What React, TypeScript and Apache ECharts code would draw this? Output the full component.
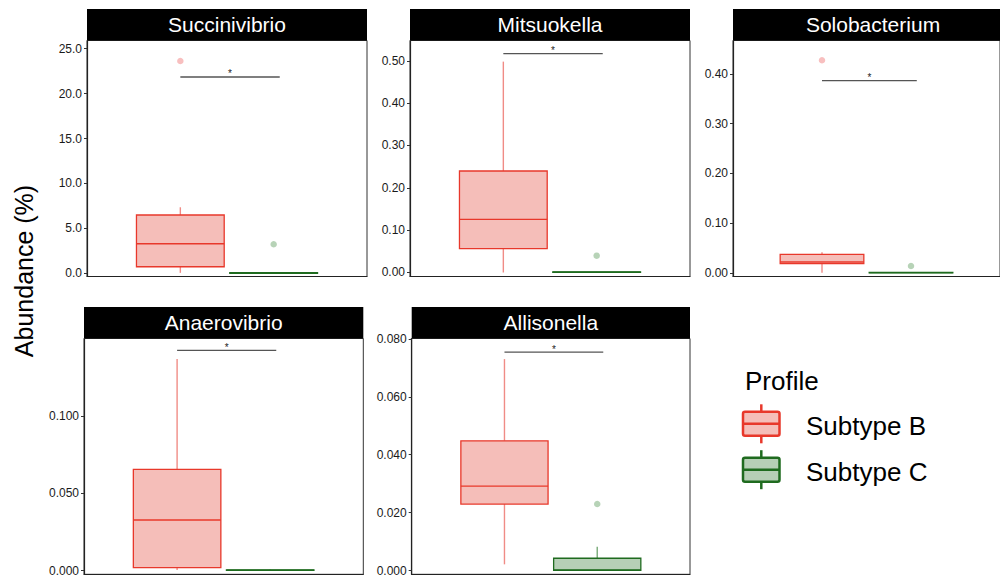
import React, { useEffect, useRef } from "react";
import * as echarts from "echarts";

// ---- data ----
const panelNames = ["Succinivibrio", "Mitsuokella", "Solobacterium", "Anaerovibrio", "Allisonella"];
const groupNames = ["Subtype B", "Subtype C"];
const groupX = [1, 2];
// [lower whisker, Q1, median, Q3, upper whisker]
const boxB = [
  [0.05, 0.73, 3.29, 6.49, 7.35],
  [0.0, 0.0562, 0.1256, 0.2397, 0.498],
  [0.0002, 0.0183, 0.0217, 0.0372, 0.0412],
  [0.0003, 0.0018, 0.0327, 0.0655, 0.1369],
  [0.0022, 0.023, 0.0292, 0.0448, 0.073],
];
const boxC = [
  [0, 0.01, 0.03, 0.06, 0.1],
  [0, 0.0005, 0.001, 0.0015, 0.002],
  [0, 0.0002, 0.0004, 0.0008, 0.0012],
  [0, 0.0001, 0.0002, 0.0004, 0.0006],
  [0, 0.0001, 0.0003, 0.0043, 0.0083],
];
const outliersB = [[23.63], [], [0.4276], [], []];
const outliersC = [[3.23], [0.0397], [0.0137], [], [0.023]];
const sigLevel = [21.85, 0.5168, 0.3865, 0.1425, 0.0754];
const sigLabel = ["*", "*", "*", "*", "*"];
const sigFrom = 1;
const sigTo = 2.065;
const yTicks = [
  [0, 5, 10, 15, 20, 25],
  [0, 0.1, 0.2, 0.3, 0.4, 0.5],
  [0, 0.1, 0.2, 0.3, 0.4],
  [0, 0.05, 0.1],
  [0, 0.02, 0.04, 0.06, 0.08],
];
const yDecimals = [1, 2, 2, 3, 3];
const yMin = [-0.356, -0.00945, -0.00744, -0.00246, -0.00124];
const yMax = [25.91, 0.5479, 0.4674, 0.1502, 0.0801];

// ---- layout / style ----
const grids = [
  { left: 87, top: 40.5, width: 280, height: 236 },
  { left: 410, top: 40.5, width: 280, height: 236 },
  { left: 733, top: 40.5, width: 280, height: 236 },
  { left: 84, top: 338.5, width: 279.3, height: 235.8 },
  { left: 411.7, top: 338.5, width: 278.3, height: 235.8 },
];
const stripH = 31.5;
const boxHalf = 0.47;
const strokeCol = ["#E8382B", "#1F6B1F"];
const fillCol = ["#F5BEB9", "#B6CFB6"];
const whiskerCol = ["#F08C86", "#78AA78"];
const outCol = ["rgba(240,110,110,0.55)", "rgba(90,155,90,0.55)"];
const SANS = "'Liberation Sans', Arial, sans-serif";

export default function App() {
  const ref = useRef<HTMLDivElement>(null);
  useEffect(() => {
    if (!ref.current) return;
    const chart = echarts.init(ref.current, undefined, { renderer: "svg" });

    const series: any[] = [];
    panelNames.forEach((_, i) => {
      series.push({
        type: "custom",
        xAxisIndex: i,
        yAxisIndex: i,
        clip: false,
        data: [
          [groupX[0], ...boxB[i], 0],
          [groupX[1], ...boxC[i], 1],
        ],
        encode: { x: 0, y: [1, 2, 3, 4, 5] },
        renderItem: (params: any, api: any) => {
          const x = api.value(0);
          const g = api.value(6);
          const p = [1, 2, 3, 4, 5].map((k) => api.coord([x, api.value(k)]));
          const hw = api.size([boxHalf, 0])[0];
          const cx = p[0][0];
          return {
            type: "group",
            children: [
              { type: "line", shape: { x1: cx, y1: p[0][1], x2: cx, y2: p[1][1] }, style: { stroke: whiskerCol[g], lineWidth: 1.4 } },
              { type: "line", shape: { x1: cx, y1: p[3][1], x2: cx, y2: p[4][1] }, style: { stroke: whiskerCol[g], lineWidth: 1.4 } },
              {
                type: "rect",
                shape: { x: cx - hw, y: p[3][1], width: 2 * hw, height: Math.max(p[1][1] - p[3][1], 0.5) },
                style: { fill: fillCol[g], stroke: strokeCol[g], lineWidth: 1.3 },
              },
              { type: "line", shape: { x1: cx - hw, y1: p[2][1], x2: cx + hw, y2: p[2][1] }, style: { stroke: strokeCol[g], lineWidth: 1.3 } },
            ],
          };
        },
      });
      series.push({
        type: "scatter",
        xAxisIndex: i,
        yAxisIndex: i,
        symbolSize: 6.5,
        itemStyle: { color: outCol[0] },
        data: outliersB[i].map((v) => [groupX[0], v]),
      });
      series.push({
        type: "scatter",
        xAxisIndex: i,
        yAxisIndex: i,
        symbolSize: 6.5,
        itemStyle: { color: outCol[1] },
        data: outliersC[i].map((v) => [groupX[1], v]),
      });
      series.push({
        type: "custom",
        xAxisIndex: i,
        yAxisIndex: i,
        clip: false,
        data: [[sigFrom, sigTo, sigLevel[i]]],
        encode: { x: [0, 1], y: 2 },
        renderItem: (params: any, api: any) => {
          const a = api.coord([api.value(0), api.value(2)]);
          const b = api.coord([api.value(1), api.value(2)]);
          return {
            type: "group",
            children: [
              { type: "line", shape: { x1: a[0], y1: a[1], x2: b[0], y2: b[1] }, style: { stroke: "#555", lineWidth: 1.3 } },
              {
                type: "text",
                x: (a[0] + b[0]) / 2,
                y: a[1] - 3,
                style: { text: sigLabel[i], fill: "#222", fontSize: 10, fontFamily: SANS, align: "center", verticalAlign: "middle" },
              },
            ],
          };
        },
      });
    });

    const graphic: any[] = [];
    grids.forEach((g, i) => {
      graphic.push({
        type: "rect",
        shape: { x: g.left, y: g.top - stripH, width: g.width, height: stripH },
        style: { fill: "#000" },
      });
      graphic.push({
        type: "text",
        x: g.left + g.width / 2,
        y: g.top - stripH / 2,
        style: { text: panelNames[i], fill: "#fff", fontSize: 21, fontFamily: SANS, align: "center", verticalAlign: "middle" },
      });
    });
    graphic.push({
      type: "text",
      x: 24,
      y: 271,
      rotation: Math.PI / 2,
      style: { text: "Abundance (%)", fill: "#000", fontSize: 25, fontFamily: SANS, align: "center", verticalAlign: "middle" },
    });
    graphic.push({
      type: "text",
      x: 745,
      y: 381,
      style: { text: "Profile", fill: "#000", fontSize: 26, fontFamily: SANS, align: "left", verticalAlign: "middle" },
    });
    const legendY = [423.8, 469.7];
    groupNames.forEach((name, k) => {
      const cy = legendY[k];
      graphic.push({ type: "line", shape: { x1: 761.3, y1: cy - 19.5, x2: 761.3, y2: cy - 12 }, style: { stroke: strokeCol[k], lineWidth: 2.5 } });
      graphic.push({ type: "line", shape: { x1: 761.3, y1: cy + 12, x2: 761.3, y2: cy + 19.5 }, style: { stroke: strokeCol[k], lineWidth: 2.5 } });
      graphic.push({
        type: "rect",
        shape: { x: 743, y: cy - 12, width: 36.5, height: 24, r: 2 },
        style: { fill: fillCol[k], stroke: strokeCol[k], lineWidth: 2.5 },
      });
      graphic.push({ type: "line", shape: { x1: 743, y1: cy, x2: 779.5, y2: cy }, style: { stroke: strokeCol[k], lineWidth: 2.5 } });
      graphic.push({
        type: "text",
        x: 806,
        y: cy + 2,
        style: { text: name, fill: "#000", fontSize: 26, fontFamily: SANS, align: "left", verticalAlign: "middle" },
      });
    });

    chart.setOption({
      animation: false,
      backgroundColor: "#fff",
      grid: grids.map((g) => ({ ...g, show: true, borderColor: "#333", borderWidth: 1, backgroundColor: "transparent" })),
      xAxis: grids.map((_, i) => ({
        type: "value",
        gridIndex: i,
        min: 0,
        max: 3,
        axisLine: { show: true, onZero: false, lineStyle: { color: "#222", width: 1.2 } },
        axisTick: { show: false },
        axisLabel: { show: false },
        splitLine: { show: false },
      })),
      yAxis: grids.map((_, i) => ({
        type: "value",
        gridIndex: i,
        min: yMin[i],
        max: yMax[i],
        axisLine: { show: true, onZero: false, lineStyle: { color: "#222", width: 1.2 } },
        axisTick: { show: true, length: 3, customValues: yTicks[i], lineStyle: { color: "#333" } },
        axisLabel: {
          customValues: yTicks[i],
          formatter: (v: number) => v.toFixed(yDecimals[i]),
          fontSize: 12,
          fontFamily: SANS,
          color: "#1a1a1a",
          margin: 5,
        },
        splitLine: { show: false },
      })),
      series,
      graphic,
    });
    return () => chart.dispose();
  }, []);
  return <div ref={ref} style={{ position: "absolute", left: 0, top: 0, width: 1000, height: 578 }} />;
}
